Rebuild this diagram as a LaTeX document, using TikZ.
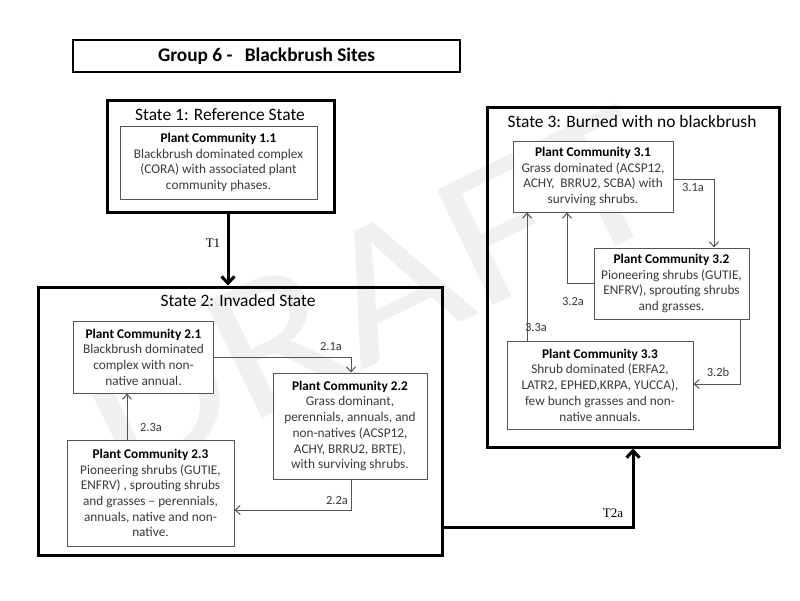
\documentclass[tikz,border=0pt]{standalone}
\usepackage{fontspec}
\setmainfont{Carlito}
\newfontfamily\serifT{Liberation Serif}
\usetikzlibrary{arrows.meta}
\definecolor{txt}{HTML}{3A3A3A}
\definecolor{ln}{HTML}{555555}
\definecolor{wm}{HTML}{F0F0F0}
\begin{document}
\begin{tikzpicture}[x=1pt,y=-1pt,
  pc/.style={draw=ln, line width=1pt, fill=white, align=center, inner sep=0pt, text=txt,
    font=\fontsize{13.3}{15.7}\selectfont},
  statebox/.style={draw=black, line width=3pt, inner sep=0pt},
  stitle/.style={font=\fontsize{17.4}{20}\selectfont, text=black, inner sep=0pt},
  tr/.style={draw=ln, line width=1pt, -{Straight Barb[length=5pt,width=9pt]}},
  trl/.style={text=txt, font=\fontsize{12.5}{15}\selectfont, inner sep=0pt},
  bigarrow/.style={draw=black, line width=3pt, -{Straight Barb[length=7pt,width=13pt]}},
  tl/.style={font=\serifT\fontsize{13}{15}\selectfont, inner sep=0pt}
]
\useasboundingbox (0,0) rectangle (800,600);
\fill[white] (0,0) rectangle (800,600);
% watermark
\node[text=wm, rotate=26, xscale=1.15, font=\fontsize{200}{200}\selectfont, inner sep=0pt] (wmk) at (370,295) {DRAFT};

% title
\node[draw=black, line width=1.5pt, minimum width=387pt, minimum height=32pt, inner sep=0pt,
  font=\fontsize{19.3}{22}\selectfont\bfseries] (title) at (266.5,56) {Group 6 -\hspace{8pt} Blackbrush Sites};

% State 1
\node[statebox, minimum width=227pt, minimum height=112pt] (S1) at (220.5,156) {};
\node[stitle] (S1t) at (220,115) {State 1: Reference State};
\node[pc, minimum width=197pt, minimum height=73pt] (P11) at (218.5,162.5)
  {{\color{black}\bfseries Plant Community 1.1}\\Blackbrush dominated complex\\(CORA) with associated plant\\community phases.};

% State 2
\node[statebox, minimum width=404pt, minimum height=268pt] (S2) at (240.5,421) {};
\node[stitle] (S2t) at (238,301) {State 2: Invaded State};
\node[pc, minimum width=140pt, minimum height=72pt] (P21) at (143.5,357)
  {{\color{black}\bfseries Plant Community 2.1}\\Blackbrush dominated\\complex with non-\\native annual.};
\node[pc, minimum width=154pt, minimum height=106pt] (P22) at (350,426)
  {{\color{black}\bfseries Plant Community 2.2}\\Grass dominant,\\perennials, annuals, and\\non-natives (ACSP12,\\ACHY, BRRU2, BRTE),\\with surviving shrubs.};
\node[pc, minimum width=167pt, minimum height=106pt] (P23) at (150.5,493)
  {{\color{black}\bfseries Plant Community 2.3}\\Pioneering shrubs (GUTIE,\\ENFRV) , sprouting shrubs\\and grasses -- perennials,\\annuals, native and non-\\native.};

% State 3
\node[statebox, minimum width=292pt, minimum height=340pt] (S3) at (633,277) {};
\node[stitle] (S3t) at (632,122) {State 3: Burned with no blackbrush};
\node[pc, minimum width=160pt, minimum height=71pt] (P31) at (593,176.5)
  {{\color{black}\bfseries Plant Community 3.1}\\Grass dominated (ACSP12,\\ACHY,\ \ BRRU2, SCBA) with\\surviving shrubs.};
\node[pc, minimum width=155pt, minimum height=71pt] (P32) at (671.5,283.5)
  {{\color{black}\bfseries Plant Community 3.2}\\Pioneering shrubs (GUTIE,\\ENFRV), sprouting shrubs\\and grasses.};
\node[pc, minimum width=186pt, minimum height=88pt] (P33) at (600,385)
  {{\color{black}\bfseries Plant Community 3.3}\\Shrub dominated (ERFA2,\\LATR2, EPHED,KRPA, YUCCA),\\few bunch grasses and non-\\native annuals.};

% helper coordinates
\coordinate (xT1) at (228,0);
\coordinate (xT2) at (633,527);
\coordinate (x21) at (351,357);
\coordinate (x22) at (351,510);
\coordinate (x23) at (127,0);
\coordinate (x31) at (714,179);
\coordinate (x32a) at (567,283);
\coordinate (x33) at (527,0);
\coordinate (x32b) at (740,384);

% transitions between states
\draw[bigarrow] (S1.south -| xT1) -- (S2.north -| xT1);
\node[tl] (T1) at (213,243) {T1};
\draw[bigarrow] (S2.east |- xT2) -- (xT2) -- (S3.south -| xT2);
\node[tl] (T2a) at (613,513) {T2a};

% community pathways state 2
\draw[tr] (P21.east |- x21) -- (x21) -- (P22.north -| x21);
\node[trl] (l21a) at (331,346) {2.1a};
\draw[tr] (P22.south -| x22) -- (x22) -- (P23.east |- x22);
\node[trl] (l22a) at (337,500) {2.2a};
\draw[tr] (P23.north -| x23) -- (P21.south -| x23);
\node[trl] (l23a) at (151,427) {2.3a};

% community pathways state 3
\draw[tr] (P31.east |- x31) -- (x31) -- (P32.north -| x31);
\node[trl] (l31a) at (693,187) {3.1a};
\draw[tr] (P32.west |- x32a) -- (x32a) -- (P31.south -| x32a);
\node[trl] (l32a) at (573,301) {3.2a};
\draw[tr] (P33.north -| x33) -- (P31.south -| x33);
\node[trl] (l33a) at (536,327) {3.3a};
\draw[tr] (P32.south -| x32b) -- (x32b) -- (P33.east |- x32b);
\node[trl] (l32b) at (718,372) {3.2b};
\end{tikzpicture}
\end{document}
